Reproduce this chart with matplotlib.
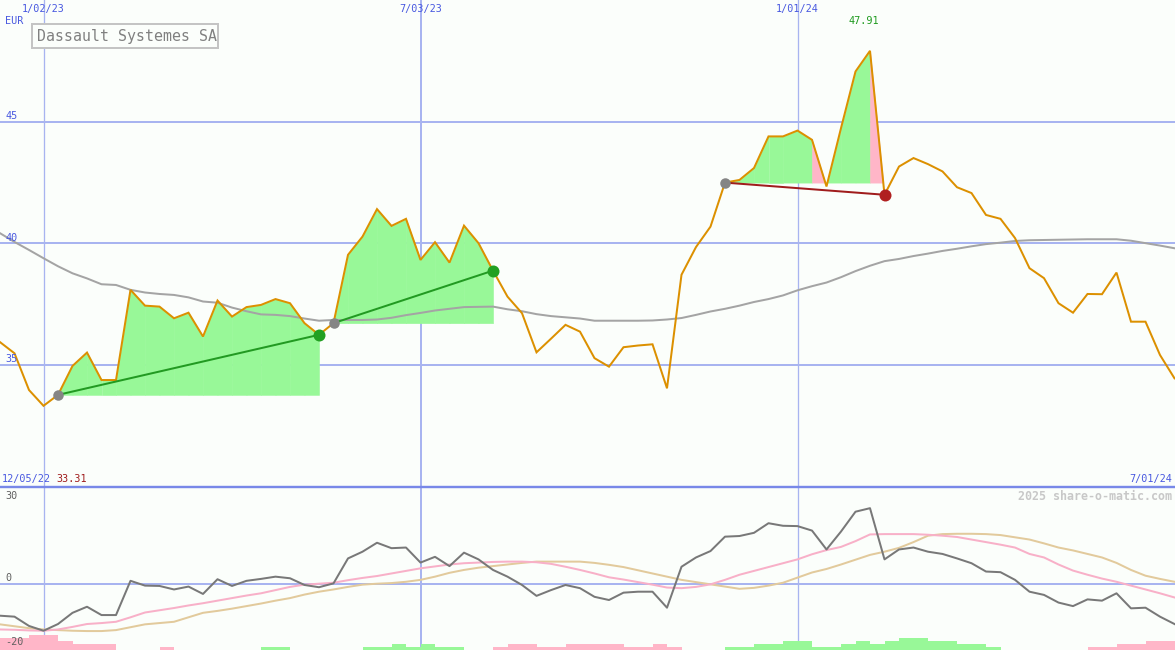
import matplotlib
matplotlib.use("Agg")
import matplotlib.pyplot as plt
from matplotlib.lines import Line2D
from matplotlib.patches import Rectangle
import numpy as np

# ---------------- data (weekly, index 0 = first visible week) ----------------
price = [35.93, 35.47, 33.96, 33.31, 33.76, 34.95, 35.50, 34.37, 34.37, 38.08,
         37.43, 37.39, 36.91, 37.14, 36.16, 37.64, 36.98, 37.37, 37.46, 37.70,
         37.53, 36.71, 36.23, 36.71, 39.52, 40.27, 41.40, 40.71, 41.00, 39.31,
         40.04, 39.20, 40.72, 40.00, 38.87, 37.80, 37.12, 35.51, 36.07, 36.64,
         36.36, 35.27, 34.92, 35.72, 35.79, 35.84, 34.03, 38.70, 39.84, 40.68,
         42.49, 42.60, 43.09, 44.39, 44.39, 44.63, 44.25, 42.33, 44.73, 47.06,
         47.91, 41.99, 43.15, 43.50, 43.25, 42.95, 42.30, 42.06, 41.16, 41.00,
         40.21, 38.97, 38.56, 37.53, 37.14, 37.91, 37.90, 38.79, 36.77, 36.77,
         35.40, 34.44]

ma_long = [40.41, 40.05, 39.72, 39.38, 39.05, 38.76, 38.55, 38.31, 38.28, 38.08,
           37.97, 37.91, 37.87, 37.77, 37.60, 37.55, 37.35, 37.20, 37.07, 37.05,
           37.00, 36.90, 36.81, 36.84, 36.84, 36.84, 36.86, 36.93, 37.04, 37.13,
           37.23, 37.30, 37.37, 37.38, 37.39, 37.28, 37.20, 37.08, 37.00, 36.95,
           36.90, 36.81, 36.81, 36.81, 36.81, 36.82, 36.86, 36.92, 37.05, 37.19,
           37.30, 37.43, 37.58, 37.70, 37.85, 38.06, 38.23, 38.38, 38.60, 38.85,
           39.07, 39.26, 39.35, 39.47, 39.57, 39.68, 39.77, 39.87, 39.96, 40.02,
           40.09, 40.12, 40.13, 40.14, 40.15, 40.16, 40.16, 40.16, 40.10, 40.00,
           39.90, 39.79]

osc = [-10.0, -10.3, -13.2, -14.7, -12.6, -9.1, -7.2, -9.8, -9.8, 0.9,
       -0.6, -0.7, -1.8, -0.9, -3.2, 1.4, -0.7, 0.9, 1.5, 2.2,
       1.7, -0.4, -1.1, 0.1, 7.9, 10.0, 12.8, 11.1, 11.3, 6.6,
       8.4, 5.5, 9.7, 7.6, 4.3, 2.2, -0.4, -3.8, -2.0, -0.4,
       -1.4, -4.1, -5.1, -2.8, -2.5, -2.5, -7.5, 5.3, 8.2, 10.2,
       14.7, 14.9, 15.9, 18.9, 18.1, 18.0, 16.6, 10.7, 16.3, 22.5,
       23.6, 7.6, 10.7, 11.3, 10.0, 9.3, 7.9, 6.4, 3.8, 3.6,
       1.2, -2.5, -3.5, -5.9, -7.0, -4.9, -5.3, -3.0, -7.7, -7.5,
       -10.3, -12.6]

osc_fast = [-14.3, -14.4, -14.6, -14.7, -14.3, -13.5, -12.6, -12.3, -11.9, -10.5,
            -9.0, -8.3, -7.6, -6.8, -6.1, -5.3, -4.5, -3.7, -3.0, -2.0,
            -1.0, -0.3, 0.0, 0.3, 1.1, 1.8, 2.4, 3.2, 4.0, 4.8,
            5.4, 6.0, 6.4, 6.6, 6.8, 6.9, 6.9, 6.7, 6.2, 5.3,
            4.3, 3.2, 2.0, 1.3, 0.5, -0.3, -1.2, -1.4, -1.0, -0.2,
            1.2, 2.8, 4.0, 5.2, 6.4, 7.6, 9.2, 10.5, 11.5, 13.3,
            15.4, 15.5, 15.5, 15.5, 15.3, 15.0, 14.6, 13.8, 13.0, 12.2,
            11.3, 9.3, 8.2, 6.0, 4.1, 2.8, 1.6, 0.6, -0.6, -1.8,
            -3.0, -4.3]

osc_slow = [-12.7, -13.3, -13.9, -14.3, -14.5, -14.7, -14.8, -14.8, -14.5, -13.6,
            -12.7, -12.3, -11.9, -10.5, -9.1, -8.5, -7.8, -7.0, -6.2, -5.3,
            -4.5, -3.4, -2.5, -1.8, -1.0, -0.3, 0.0, 0.2, 0.6, 1.2,
            2.2, 3.4, 4.3, 5.0, 5.5, 6.0, 6.5, 6.9, 6.9, 6.9,
            6.9, 6.5, 5.9, 5.2, 4.2, 3.2, 2.2, 1.2, 0.5, -0.2,
            -0.9, -1.6, -1.3, -0.6, 0.3, 1.9, 3.5, 4.6, 6.0, 7.5,
            9.0, 10.0, 11.2, 13.0, 15.0, 15.5, 15.6, 15.6, 15.5, 15.2,
            14.5, 13.8, 12.6, 11.3, 10.4, 9.3, 8.2, 6.5, 4.3, 2.5,
            1.5, 0.6]

# signed bar levels (positive = green, negative = pink), one per week step
bar_level = [-4, -4, -5, -5, -3, -2, -2, -2, 0, 0,
             0, -1, 0, 0, 0, 0, 0, 0, 1, 1,
             0, 0, 0, 0, 0, 1, 1, 2, 1, 2,
             1, 1, 0, 0, -1, -2, -2, -1, -1, -2,
             -2, -2, -2, -1, -1, -2, -1, 0, 0, 0,
             1, 1, 2, 2, 3, 3, 1, 1, 2, 3,
             2, 3, 4, 4, 3, 3, 2, 2, 1, 0,
             0, 0, 0, 0, 0, -1, -1, -2, -2, -3,
             -3]

trade_start = [4, 23, 50]
trade_end = [22, 34, 61]

date_idx = [3, 29, 55]
date_labels = ["1/02/23", "7/03/23", "1/01/24"]
price_ticks = [45, 40, 35]
osc_ticks = [30, 0, -20]
start_label = "12/05/22"
end_label = "7/01/24"
low_label = "33.31"
high_label = "47.91"
high_idx = 60
title = "Dassault Systemes SA"
currency = "EUR"
credit = "2025 share-o-matic.com"

# ---------------- styling ----------------
W, H = 1175, 650
PX_PER_WEEK = 14.5
BG = '#FBFEFB'
GRID = '#A8B4F0'
SEP = '#7888E8'
BLUE_TXT = '#4858E0'
ORANGE = '#DC9000'
MA_GRAY = '#A4A4A4'
FILL_GREEN = '#98F898'
FILL_PINK = '#FFB6C8'
TRADE_GREEN = '#229A22'
TRADE_RED = '#A01C1C'
DOT_GREEN = '#22A022'
DOT_RED = '#B02020'
DOT_GRAY = '#858585'
OSC_GRAY = '#787878'
OSC_PINK = '#F8B0C8'
OSC_TAN = '#E2CA9C'
MONO = 'DejaVu Sans Mono'
PT = 0.72  # points per pixel at dpi 100

fig = plt.figure(figsize=(W / 100, H / 100), dpi=100, facecolor=BG)


def fx(px):
    return px / W


def fy(py):
    return 1 - py / H


main_bottom_px = 486.3
osc_top_px = 487.7
ax = fig.add_axes([0, fy(main_bottom_px), 1, main_bottom_px / H])
ax2 = fig.add_axes([0, 0, 1, (H - osc_top_px) / H])
xmax = W / PX_PER_WEEK
osc_px_per_unit = 3.2
osc_ymin = osc_ticks[0] - (H - osc_top_px) / osc_px_per_unit
for a in (ax, ax2):
    a.set_axis_off()
    a.set_xlim(0, xmax)
ax.set_ylim(30, 50)
ax2.set_ylim(osc_ymin, osc_ticks[0])

x = np.arange(len(price))
vlw = [1.3 * PT, 2.0 * PT, 1.3 * PT]

# ---------------- main panel ----------------
for v in price_ticks:
    ax.axhline(v, color=GRID, lw=2 * PT, zorder=0.5)
for i, lw in zip(date_idx, vlw):
    ax.axvline(i, color=GRID, lw=lw, zorder=0.5)

for s, e in zip(trade_start, trade_end):
    base = price[s]
    for i in range(s, e):
        ys = np.array(price[i:i + 2])
        xs = np.array([i, i + 1])
        c = FILL_PINK if ys[1] < base else FILL_GREEN
        ax.fill_between(xs, ys, base, where=ys >= base, interpolate=True,
                        facecolor=c, edgecolor=c, lw=0.4, antialiased=False,
                        zorder=1)

ax.plot(x, ma_long, color=MA_GRAY, lw=2 * PT, zorder=2)
ax.plot(x, price, color=ORANGE, lw=2 * PT, zorder=3, solid_joinstyle='miter')

for s, e in zip(trade_start, trade_end):
    base = price[s]
    win = price[e] >= base
    lc = TRADE_GREEN if win else TRADE_RED
    dc = DOT_GREEN if win else DOT_RED
    ax.plot([s, e], [base, price[e]], color=lc, lw=2 * PT, zorder=4)
    ax.plot(s, base, 'o', color=DOT_GRAY, ms=10.5 * PT, mew=0, zorder=5)
    ax.plot(e, price[e], 'o', color=dc, ms=12 * PT, mew=0, zorder=5)

# price tick labels
for v in price_ticks:
    ax.annotate(str(v), xy=(0, v), xytext=(5.5, 5.5), textcoords='offset pixels',
                ha='left', va='center', color=BLUE_TXT, fontsize=7.3, family=MONO)

# top texts
fig.text(fx(5.5), fy(21), currency, ha='left', va='center', color=BLUE_TXT,
         fontsize=7.3, family=MONO)
for i, lab in zip(date_idx, date_labels):
    fig.text(fx(i * PX_PER_WEEK), fy(9), lab, ha='center', va='center',
             color=BLUE_TXT, fontsize=7.3, family=MONO)
fig.text(fx(high_idx * PX_PER_WEEK - 6), fy(21), high_label, ha='center', va='center',
         color='#1E9A1E', fontsize=7.3, family=MONO)

# title box
fig.add_artist(Rectangle((fx(32.3), fy(48.3)), fx(218.3) - fx(32.3), (48.3 - 24.3) / H,
                         transform=fig.transFigure, fill=True, fc=BG, ec='#C4C4C4',
                         lw=2 * PT, zorder=6))
fig.text(fx(37), fy(36.5), title, ha='left', va='center', color='#808080',
         fontsize=10.7, family=MONO, zorder=7)

# separator between panels
fig.add_artist(Line2D([0, 1], [fy(486.5), fy(486.5)], transform=fig.transFigure,
                      color=SEP, lw=2.4 * PT, zorder=8))

fig.text(fx(1.5), fy(479), start_label, ha='left', va='center', color=BLUE_TXT,
         fontsize=7.3, family=MONO)
fig.text(fx(56), fy(479), low_label, ha='left', va='center', color=TRADE_RED,
         fontsize=7.3, family=MONO)
fig.text(fx(1172.5), fy(479), end_label, ha='right', va='center', color=BLUE_TXT,
         fontsize=7.3, family=MONO)
fig.text(fx(1172.5), fy(496), credit, ha='right', va='center', color='#C8C8C8',
         fontsize=8.4, family=MONO, fontweight='bold')

# ---------------- oscillator panel ----------------
ax2.axhline(0, color=GRID, lw=2 * PT, zorder=0.5)
for i, lw in zip(date_idx, vlw):
    ax2.axvline(i, color=GRID, lw=lw, zorder=0.5)

bar_unit = 3.05 / osc_px_per_unit
lev = np.array(bar_level)
bar_colors = [FILL_GREEN if l > 0 else FILL_PINK for l in lev]
ax2.bar(np.arange(len(lev)), np.abs(lev) * bar_unit, width=1.0, align='edge',
        bottom=osc_ymin, color=bar_colors, lw=0, antialiased=False, zorder=1)

ax2.plot(x, osc_slow, color=OSC_TAN, lw=2 * PT, zorder=2)
ax2.plot(x, osc_fast, color=OSC_PINK, lw=2 * PT, zorder=2.5)
ax2.plot(x, osc, color=OSC_GRAY, lw=2 * PT, zorder=3)

for v in osc_ticks:
    off = -8.5 if v >= osc_ticks[0] else 5.5
    ax2.annotate(str(v), xy=(0, v), xytext=(5.5, off), textcoords='offset pixels',
                 ha='left', va='center', color='#606060', fontsize=7.3, family=MONO,
                 zorder=6)

fig.savefig("out.png", dpi=100, facecolor=BG)
